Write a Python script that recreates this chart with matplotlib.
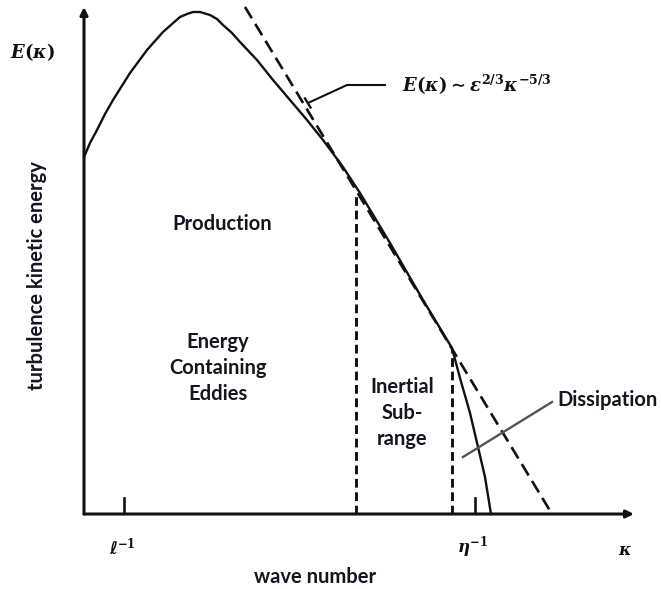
import numpy as np
import matplotlib
matplotlib.use('Agg')
import matplotlib.pyplot as plt

plt.rcParams['mathtext.fontset'] = 'custom'
plt.rcParams['mathtext.it'] = 'DejaVu Serif:italic:bold'
plt.rcParams['mathtext.rm'] = 'DejaVu Serif:bold'

# energy spectrum E(k), sketched by hand (arbitrary units)
kappa = [0.00, 0.12, 0.26, 0.42, 0.58, 0.92, 1.26, 1.58, 1.76, 1.92,
         2.06, 2.18, 2.32, 2.52, 2.66, 2.78, 2.96, 3.12, 3.46, 3.78,
         4.12, 4.46, 4.78, 5.18, 5.52, 6.12, 6.78, 7.36, 7.52, 7.72,
         7.88, 8.02, 8.14]
energy = [7.14, 7.42, 7.68, 8.00, 8.28, 8.82, 9.28, 9.64, 9.80, 9.94,
          10.00, 10.04, 10.04, 9.98, 9.90, 9.78, 9.62, 9.44, 9.08, 8.68,
          8.28, 7.88, 7.48, 6.94, 6.42, 5.42, 4.28, 3.32, 2.72, 2.02,
          1.34, 0.74, 0.00]

# -5/3 power-law reference line
ref_kappa = [3.22, 9.36]
ref_energy = [10.14, 0.00]

# region boundaries (kappa, height of the dashed divider)
bound_kappa = [5.44, 7.36]
bound_top = [6.38, 3.30]

# marked wave numbers: 1/l and 1/eta
tick_kappa = [0.80, 7.82]
tick_labels = ['ℓ$^{-1}$', r'$\eta^{-1}$']

XMAX, YMAX = 11.0, 10.14
ink = '#111111'
txt = '#15151f'

fig = plt.figure(figsize=(6.61, 5.89), dpi=100)
ax = fig.add_axes([84 / 661, 75 / 589, (634 - 84) / 661, (514 - 7) / 589])
ax.set_xlim(0, XMAX)
ax.set_ylim(0, YMAX)
ax.axis('off')

# axes with arrow heads
arrow = dict(arrowstyle='-|>', lw=2.2, color=ink, mutation_scale=11,
             shrinkA=0, shrinkB=0)
ax.annotate('', xy=(XMAX, 0), xytext=(0, 0), arrowprops=arrow,
            annotation_clip=False)
ax.annotate('', xy=(0, YMAX), xytext=(0, 0), arrowprops=arrow,
            annotation_clip=False)

ax.plot(kappa, energy, color=ink, lw=1.7, clip_on=False,
        solid_joinstyle='round')
ax.plot(ref_kappa, ref_energy, color=ink, lw=1.9, ls=(0, (5, 2.5)),
        clip_on=False)
for k, top in zip(bound_kappa, bound_top):
    ax.plot([k, k], [0, top], color=ink, lw=2.1, ls=(0, (3.0, 1.6)))

for k, lab in zip(tick_kappa, tick_labels):
    ax.plot([k, k], [0, 0.32], color=ink, lw=1.9)
    ax.text(k - 0.04, -0.66, lab, ha='center', va='center', fontsize=12,
            family=['DejaVu Sans', 'DejaVu Serif'], fontweight='bold',
            style='italic', color=ink, clip_on=False)
ax.text(10.82, -0.72, r'$\kappa$', ha='center', va='center', fontsize=12,
        color=ink, clip_on=False)
ax.text(-1.04, 9.24, r'$E(\kappa)$', ha='center', va='center', fontsize=13,
        color=ink, clip_on=False)

# leader to the power-law formula
ax.plot([4.48, 5.26, 6.02], [8.22, 8.58, 8.58], color=ink, lw=1.5)
ax.plot([4.42, 4.53], [8.31, 8.13], color=ink, lw=1.7)
ax.text(6.36, 8.58, r'$E(\kappa) \sim \epsilon^{2/3}\kappa^{-5/3}$',
        ha='left', va='center', fontsize=13, color=ink)

# dissipation leader
ax.plot([7.58, 9.36], [1.14, 2.24], color='#555555', lw=1.7)

lab = dict(family='Lato', fontweight='bold', color=txt, fontsize=14.5,
           clip_on=False)
ax.text(2.76, 5.80, 'Production', ha='center', va='center', **lab)
ax.text(2.68, 2.92, 'Energy\nContaining\nEddies', ha='center', va='center',
        multialignment='center', linespacing=1.4, **lab)
ax.text(6.36, 2.02, 'Inertial\nSub-\nrange', ha='center', va='center',
        multialignment='center', linespacing=1.4, **lab)
ax.text(9.46, 2.28, 'Dissipation', ha='left', va='center', **lab)
ax.text(4.62, -1.26, 'wave number', ha='center', va='center', **lab)
ax.text(-0.94, 4.76, 'turbulence kinetic energy', ha='center', va='center',
        rotation=90, **lab)

fig.savefig('out.png', dpi=100)
